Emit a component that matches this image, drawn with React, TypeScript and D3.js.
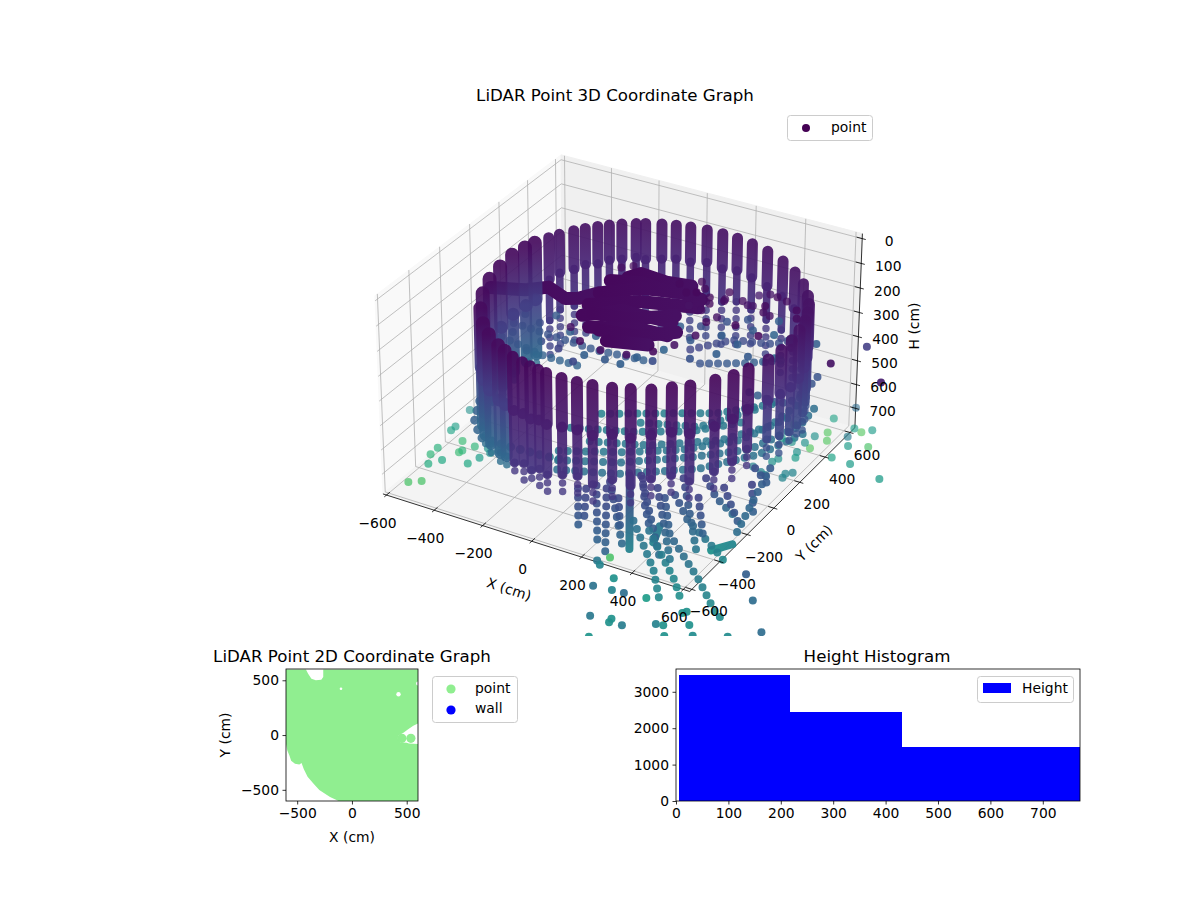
import { useEffect, useRef } from "react";
import * as d3 from "d3";

const FONT = "DejaVu Sans";

// axis limits of the 3D box, H runs downwards
const xLimits = [-615, 625];
const yLimits = [-615, 640];
const hLimits = [782, -20];
const xyTicks = [-600, -400, -200, 0, 200, 400, 600];
const hTicks = [0, 100, 200, 300, 400, 500, 600, 700];

// wall columns: x, y, hTop, hSolid, hEnd
const backColumns = [
  [549, 336, 60, 370, 520], [484, 398, 60, 350, 520], [410, 449, 60, 340, 520], [329, 487, 60, 340, 530],
  [255, 510, 60, 330, 500], [189, 521, 60, 320, 520], [127, 525, 60, 340, 530], [65, 522, 60, 320, 500],
  [3, 512, 60, 340, 520], [-49, 498, 60, 330, 520], [-98, 480, 60, 340, 540], [-151, 454, 60, 350, 520],
  [-180, 436, 60, 330, 530], [-223, 407, 60, 340, 510], [-258, 377, 60, 340, 520], [-289, 347, 60, 360, 530],
  [-320, 311, 60, 350, 520], [-347, 275, 60, 370, 540], [-377, 224, 60, 370, 530], [-397, 183, 60, 400, 550],
];
const sideColumns = [
  [-420, 124, 60, 520, 560], [-432, 76, 60, 530, 560], [-443, 6, 60, 540, 580], [-444, -75, 70, 560, 590],
  [-433, -164, 75, 570, 600], [-403, -259, 80, 570, 600], [-358, -347, 85, 560, 590], [-299, -426, 90, 540, 580],
  [-241, -482, 90, 530, 570], [-173, -531, 90, 520, 560], [-134, -553, 90, 510, 550],
];
const rightColumns = [
  [603, 265, 60, 380, 480], [633, 214, 60, 400, 490], [657, 159, 60, 420, 490], [676, 103, 60, 430, 500],
  [689, 34, 60, 440, 500], [695, -35, 65, 430, 490], [692, -105, 70, 410, 480], [680, -176, 75, 390, 470],
];
const frontColumns = [
  [-89, -574, 90, 510, 570], [-42, -590, 90, 490, 560], [-5, -600, 90, 500, 550], [31, -607, 90, 480, 550],
  [65, -612, 90, 490, 570], [127, -615, 90, 470, 550], [185, -612, 90, 460, 560], [240, -603, 90, 480, 570],
  [306, -586, 90, 450, 530], [364, -562, 90, 470, 550], [425, -530, 90, 440, 540], [481, -490, 85, 430, 520],
  [528, -448, 85, 460, 530], [586, -380, 80, 440, 520], [624, -321, 80, 420, 520], [651, -265, 75, 390, 490],
];

// runs of lidar returns leaving the wall: x, y at the floor level, with start and end shade
const tailRuns = [
  { pts: [[31, -349], [180, -601]], c: [0.2, 0.32] },
  { pts: [[77, -299], [265, -618]], c: [0.2, 0.32] },
  { pts: [[105, -252], [366, -616]], c: [0.2, 0.36] },
  { pts: [[180, -162], [495, -592]], c: [0.18, 0.36] },
  { pts: [[195, -176], [286, -324], [377, -450]], c: [0.18, 0.3] },
  { pts: [[303, -434], [513, -668], [626, -827]], c: [0.36, 0.48] },
  { pts: [[381, -462], [605, -688], [688, -790]], c: [0.38, 0.5] },
  { pts: [[324, -249], [454, -448], [676, -646], [846, -821]], c: [0.26, 0.5] },
  { pts: [[346, -214], [464, -337], [628, -449], [699, -505]], c: [0.24, 0.48] },
  { pts: [[386, -61], [478, -157], [578, -223]], c: [0.2, 0.36] },
  { pts: [[546, -18], [649, -203]], c: [0.2, 0.32] },
  { pts: [[185, -332], [298, -517]], c: [0.22, 0.3] },
  { pts: [[425, -188], [562, -406]], c: [0.2, 0.32] },
  { pts: [[471, -85], [640, -284]], c: [0.2, 0.3] },
  { pts: [[550, 113], [609, -152], [654, -350]], c: [0.28, 0.36] },
  { pts: [[318, -102], [607, -529]], c: [0.2, 0.42] },
  { pts: [[56, -335], [147, -505]], c: [0.2, 0.26] },
  { pts: [[117, -297], [340, -695]], c: [0.2, 0.34] },
  { pts: [[271, -205], [530, -584]], c: [0.2, 0.4] },
  { pts: [[504, 85], [610, -1]], c: [0.24, 0.3] },
];
const solidRuns = [
  { pts: [[146, -183], [380, -598]], c: [0.18, 0.44] },
  { pts: [[625, -465], [669, -394]], c: [0.5, 0.46] },
  { pts: [[398, -420], [430, -520]], c: [0.4, 0.44] },
];

// teal bands of returns lying low inside and behind the wall
const floorBands = [
  { pts: [[-586, -6], [-535, -126], [-449, -225], [-327, -227], [-189, -219], [-111, -210]], c: [0.3, 0.44], w: 9 },
  { pts: [[-127, -219], [67, -125], [268, 33], [427, 190], [506, 424], [492, 603]], c: [0.38, 0.36], w: 8 },
  { pts: [[-95, -50], [104, 33], [305, 191], [414, 369], [430, 566]], c: [0.4, 0.38], w: 8 },
  { pts: [[-2, 156], [198, 239], [322, 464]], c: [0.42, 0.4], w: 8 },
  { pts: [[401, 774], [415, 595], [369, 529], [215, 550]], c: [0.26, 0.3], w: 8 },
  { pts: [[-158, -162], [33, -63], [212, 60], [367, 228], [445, 463]], c: [0.4, 0.38], w: 8 },
  { pts: [[-202, -2], [-2, 82], [183, 193], [321, 350]], c: [0.42, 0.4], w: 8 },
  { pts: [[-156, 139], [29, 250], [214, 361], [353, 520]], c: [0.44, 0.4], w: 8 },
  { pts: [[-97, -276], [103, -193], [334, -17], [473, 179], [552, 415]], c: [0.36, 0.38], w: 8 },
];

// blue bands of returns inside the ring, ceiling level
const innerBands = [
  { pts: [[-217, -356], [-49, -367], [120, -378], [310, -354]], c: [0.24, 0.3], w: 8 },
  { pts: [[-203, -460], [-19, -500], [144, -500]], c: [0.3, 0.32], w: 8 },
  { pts: [[398, -211], [491, -81], [629, -35], [706, 86]], c: [0.2, 0.26], w: 8 },
  { pts: [[473, -279], [597, -205], [711, -114]], c: [0.26, 0.32], w: 8 },
];

// scatter at floor level: x, y, shade
const floorPoints = [
  [-507, -612, 0.72], [-470, -583, 0.72], [-392, -401, 0.6], [-484, -426, 0.6], [-512, -473, 0.62], [-540, -414, 0.66],
  [-542, -363, 0.64], [-460, -351, 0.68], [-456, -335, 0.66], [-490, -279, 0.68], [-566, -235, 0.58], [-566, -205, 0.56],
  [-583, -80, 0.5], [-377, -346, 0.55], [-385, -276, 0.5], [-361, -300, 0.5], [-432, -289, 0.66], [-346, -268, 0.55],
  [484, 426, 0.74], [614, 436, 0.74], [638, 383, 0.74], [609, 306, 0.74], [718, 499, 0.74], [785, 419, 0.72],
  [690, 445, 0.42], [720, 388, 0.55], [705, 288, 0.58], [781, 282, 0.55], [916, 242, 0.55], [589, 535, 0.58],
  [685, 509, 0.55], [746, 531, 0.55], [624, 645, 0.35], [490, 317, 0.55], [533, 312, 0.5], [576, 331, 0.5],
  [586, 389, 0.5], [581, 259, 0.5], [594, 222, 0.55], [545, 184, 0.5], [535, 156, 0.5], [614, 106, 0.45],
  [633, 125, 0.45], [617, 78, 0.45], [556, 63, 0.45], [492, 92, 0.45], [534, 73, 0.45],
];
const frontPoints = [
  [387, -857, 0.38], [424, -782, 0.5], [454, -847, 0.45], [498, -843, 0.36], [469, -1018, 0.4], [542, -1019, 0.5],
  [539, -998, 0.5], [588, -1014, 0.42], [527, -1126, 0.52], [578, -832, 0.55], [681, -951, 0.44], [705, -944, 0.5],
  [725, -850, 0.5], [734, -836, 0.5], [739, -998, 0.5], [779, -900, 0.5], [819, -950, 0.48], [921, -897, 0.48],
  [1004, -817, 0.35], [892, -666, 0.35], [797, -535, 0.3], [844, -808, 0.48], [349, -677, 0.72], [321, -716, 0.4],
  [342, -734, 0.45],
];

// scatter at ceiling level
const innerPoints = [
  [-216, -281, 0.3], [-140, -310, 0.22], [-118, -236, 0.28], [-18, -311, 0.3], [-70, -418, 0.24], [7, -432, 0.2],
  [105, -426, 0.3], [181, -417, 0.28], [268, -350, 0.3], [321, -258, 0.32], [368, -155, 0.28], [352, -51, 0.24],
  [444, -71, 0.3], [521, -100, 0.3], [521, 13, 0.28], [598, 22, 0.32], [660, 20, 0.3], [675, 105, 0.25],
  [752, 39, 0.3], [428, -268, 0.26], [490, -194, 0.3], [591, -156, 0.28], [674, -120, 0.34], [-187, -413, 0.26],
  [-80, -498, 0.22], [74, -293, 0.3], [291, -88, 0.3], [326, -345, 0.24], [242, -418, 0.3], [95, -484, 0.22],
  [414, 23, 0.25], [470, 72, 0.26], [568, 116, 0.3],
];
const darkPoints = [
  [140, 181, 0.03], [191, 137, 0.03], [245, 58, 0.05], [222, 156, 0.02], [298, 51, 0.04], [235, 194, 0.03],
  [280, 146, 0.03], [301, 106, 0.03], [369, 34, 0.05], [335, 149, 0.03], [321, 215, 0.03], [332, 163, 0.04],
  [451, 16, 0.02], [391, 182, 0.05], [421, 163, 0.06], [439, 167, 0.06], [422, 246, 0.08], [476, 189, 0.03],
  [492, 145, 0.04], [453, 272, 0.06], [523, 133, 0.05], [483, 268, 0.03], [526, 256, 0.04], [585, 216, 0.03],
  [612, 164, 0.03], [555, -12, 0.02], [690, -29, 0.03], [855, -56, 0.05], [909, 110, 0.18], [1058, -85, 0.08],
  [201, 233, 0.03], [353, -14, 0.03], [367, -117, 0.04], [336, -211, 0.05], [296, -288, 0.03], [228, -352, 0.05],
  [136, -369, 0.04], [44, -350, 0.03], [-33, -282, 0.05], [-97, 182, 0.03], [-66, 215, 0.03],
];

// dense cluster hanging in the middle of the ring
const centerStrands = [
  [[-421, -178], [-307, -132], [-246, -73], [-154, -115], [-114, -91], [-71, -20]],
  [[-40, 130], [-14, 179], [94, 168], [186, 187]],
  [[-83, 79], [20, 120], [120, 110], [220, 140]],
  [[-71, -20], [38, 83], [176, 128], [261, 120]],
  [[-62, -113], [83, -3], [221, 43], [280, 60]],
  [[-41, -190], [60, -90], [129, -88], [251, -75]],
  [[-20, -160], [110, -130], [240, -30]],
  [[20, -251], [174, -174], [284, -167]],
  [[60, -250], [200, -220], [300, -130]],
  [[121, -303], [259, -257]],
];

// lower panels
const groundEdge = [
  [-603, 599], [-420, 599], [-400, 560], [-370, 515], [-330, 500], [-280, 505], [-262, 530], [-262, 599],
  [603, 599], [603, 106], [560, 85], [510, 50], [470, 20], [425, -5], [418, -30], [440, -65],
  [500, -70], [520, -78], [603, -82], [603, -605], [-115, -605], [-200, -565], [-298, -502], [-350, -445],
  [-405, -381], [-440, -310], [-460, -255], [-480, -268], [-520, -262], [-555, -235], [-570, -190], [-590, -140],
  [-603, -76],
];
const groundSpots = [[456, -30, 4.6], [538, -30, 4.6]];
const groundHoles = [[-100, 423, 1.3], [425, 372, 2.2], [603, 470, 2]];
const planTicks = [-500, 0, 500];
const binEdges = [6, 218, 431, 790];
const binCounts = [3461, 2445, 1483];
const histXTicks = [0, 100, 200, 300, 400, 500, 600, 700];
const histYTicks = [0, 1000, 2000, 3000];

const floorH = 700;
const ceilingH = 100;
const backShade = [0.05, 0.22];
const sideShade = [0.03, 0.36];
const rightShade = [0.05, 0.26];
const frontShade = [0.02, 0.17];

const xNorm = d3.scaleLinear().domain(xLimits).range([-0.5, 0.5]);
const yNorm = d3.scaleLinear().domain(yLimits).range([-0.5, 0.5]);
const hNorm = d3.scaleLinear().domain(hLimits).range([-0.3225, 0.3225]);

// elev 30, azim -60, seen from distance 10
function project(x: number, y: number, h: number) {
  const u = xNorm(x);
  const v = yNorm(y);
  const w = hNorm(h);
  const xc = 0.866 * u + 0.5 * v;
  const yc = -0.25 * u + 0.433 * v + 0.866 * w;
  const zc = 0.433 * u - 0.75 * v + 0.5 * w;
  const f = 1 / (1 - zc / 10);
  return { sx: 622.6 + 351 * xc * f, sy: 363.8 - 351 * yc * f, depth: zc };
}

const depthAlpha = d3.scaleLinear().domain([-0.5, 0.45]).range([0.5, 0.92]).clamp(true);

function App() {
  const ref = useRef<SVGSVGElement>(null);

  useEffect(() => {
    if (!ref.current) return;
    const svg = d3.select(ref.current);
    svg.selectAll("*").remove();
    svg.style("font-family", FONT);
    const defs = svg.append("defs");
    defs.append("clipPath").attr("id", "clip3d").append("rect").attr("width", 1200).attr("height", 636);
    defs.append("clipPath").attr("id", "clipPlan").append("rect").attr("x", 286).attr("y", 669).attr("width", 132).attr("height", 132);

    const [x0, x1] = xLimits;
    const [y0, y1] = yLimits;
    const [hBot, hTop] = hLimits;
    const g = svg.append("g").attr("clip-path", "url(#clip3d)");

    const pathOf = (pts: number[][]) =>
      "M" + pts.map((p) => { const q = project(p[0], p[1], p[2]); return `${q.sx},${q.sy}`; }).join("L") + "Z";

    // panes
    const panes = [
      { c: "#f9f9f9", pts: [[x0, y0, hBot], [x0, y1, hBot], [x0, y1, hTop], [x0, y0, hTop]] },
      { c: "#f0f0f0", pts: [[x0, y1, hBot], [x1, y1, hBot], [x1, y1, hTop], [x0, y1, hTop]] },
      { c: "#f4f4f4", pts: [[x0, y0, hBot], [x1, y0, hBot], [x1, y1, hBot], [x0, y1, hBot]] },
    ];
    panes.forEach((p) => g.append("path").attr("d", pathOf(p.pts)).attr("fill", p.c).attr("stroke", p.c));

    const seg = (sel: any, a: number[], b: number[], color: string, w: number) => {
      const p = project(a[0], a[1], a[2]);
      const q = project(b[0], b[1], b[2]);
      sel.append("line").attr("x1", p.sx).attr("y1", p.sy).attr("x2", q.sx).attr("y2", q.sy)
        .attr("stroke", color).attr("stroke-width", w);
    };

    // grid
    const grid = "#b0b0b0";
    xyTicks.forEach((t) => {
      seg(g, [t, y0, hBot], [t, y1, hBot], grid, 0.8);
      seg(g, [t, y1, hBot], [t, y1, hTop], grid, 0.8);
      seg(g, [x0, t, hBot], [x1, t, hBot], grid, 0.8);
      seg(g, [x0, t, hBot], [x0, t, hTop], grid, 0.8);
    });
    hTicks.forEach((t) => {
      seg(g, [x0, y0, t], [x0, y1, t], grid, 0.8);
      seg(g, [x0, y1, t], [x1, y1, t], grid, 0.8);
    });

    // axis lines and ticks
    seg(g, [x0, y0, hBot], [x1, y0, hBot], "#000", 0.8);
    seg(g, [x1, y0, hBot], [x1, y1, hBot], "#000", 0.8);
    seg(g, [x1, y1, hBot], [x1, y1, hTop], "#000", 0.8);

    const label = (sel: any, x: number, y: number, text: string, size = 13.89, anchor = "middle", rot = 0) => {
      const t = sel.append("text").attr("text-anchor", anchor).attr("dominant-baseline", "central")
        .attr("font-size", size).attr("fill", "#000").text(text);
      t.attr("transform", `translate(${x},${y}) rotate(${rot})`);
    };
    const fmt = d3.format("");
    const tickFmt = (v: number) => (v < 0 ? "\u2212" + Math.abs(v) : fmt(v));

    // one stroked run through listed points, shaded from c[0] to c[1]
    let gradId = 0;
    const line = d3.line<{ sx: number; sy: number }>().x((d) => d.sx).y((d) => d.sy);
    const run = (pts: number[][], c: number[], width: number, dotted: boolean, alpha: number) => {
      const proj = pts.map((p) => project(p[0], p[1], p[2]));
      const a = proj[0];
      const b = proj[proj.length - 1];
      const id = `shade${gradId++}`;
      const gr = defs.append("linearGradient").attr("id", id).attr("gradientUnits", "userSpaceOnUse")
        .attr("x1", a.sx).attr("y1", a.sy).attr("x2", b.sx).attr("y2", b.sy + 0.01);
      gr.append("stop").attr("offset", 0).attr("stop-color", d3.interpolateViridis(c[0]));
      gr.append("stop").attr("offset", 1).attr("stop-color", d3.interpolateViridis(c[1]));
      g.append("path").attr("d", line(proj)!).attr("fill", "none").attr("stroke", `url(#${id})`)
        .attr("stroke-width", width).attr("stroke-linecap", "round").attr("stroke-linejoin", "round")
        .attr("stroke-dasharray", dotted ? `0 ${width + 1}` : null).attr("stroke-opacity", alpha);
    };
    const dots = (rows: number[][], h: number) => {
      g.append("g").selectAll("circle").data(rows).join("circle")
        .attr("cx", (d) => project(d[0], d[1], h).sx)
        .attr("cy", (d) => project(d[0], d[1], h).sy)
        .attr("r", 4)
        .attr("fill", (d) => d3.interpolateViridis(d[2]))
        .attr("fill-opacity", (d) => depthAlpha(project(d[0], d[1], h).depth));
    };
    // the scan lines fan out near the top of the wall, so the upper half is drawn wider
    const columns = (rows: number[][], shade: number[], width: number, lower: number) => {
      rows.forEach((r) => {
        const [x, y, top, solid, end] = r;
        const mix = (h: number) => shade[0] + ((shade[1] - shade[0]) * (h - top)) / (end - top);
        const half = (top + solid) / 2;
        run([[x, y, solid], [x, y, end]], [mix(solid), shade[1]], 7.5, true, 0.8);
        run([[x, y, half], [x, y, solid]], [mix(half), mix(solid)], lower, false, 0.92);
        run([[x, y, top], [x, y, half]], [shade[0], mix(half)], width, false, 0.92);
      });
    };

    floorBands.forEach((b) => run(b.pts.map((p) => [p[0], p[1], floorH]), b.c, b.w, true, 0.85));
    dots(floorPoints, floorH);
    columns(backColumns, backShade, 11, 7.5);
    innerBands.forEach((b) => run(b.pts.map((p) => [p[0], p[1], ceilingH]), b.c, b.w, true, 0.8));
    dots(innerPoints, ceilingH);
    centerStrands.forEach((s) => run(s.map((p) => [p[0], p[1], ceilingH]), [0.02, 0.04], 13, false, 1));
    dots(darkPoints, ceilingH);
    columns(sideColumns, sideShade, 14, 12);
    columns(rightColumns, rightShade, 12, 9);
    solidRuns.forEach((t) => run(t.pts.map((p) => [p[0], p[1], floorH]), t.c, 8, false, 0.95));
    tailRuns.forEach((t) => run(t.pts.map((p) => [p[0], p[1], floorH]), t.c, 8, true, 0.9));
    columns(frontColumns, frontShade, 12, 10);
    dots(frontPoints, floorH);

    xyTicks.forEach((t) => {
      seg(g, [t, y0 - 14, hBot], [t, y0 + 22, hBot], "#000", 0.8);
      const p = project(t, y0, hBot);
      label(g, p.sx - 9, p.sy + 27.5, tickFmt(t));
      seg(g, [x1 - 22, t, hBot], [x1 + 14, t, hBot], "#000", 0.8);
      const q = project(x1, t, hBot);
      label(g, q.sx + 17, q.sy + 22, tickFmt(t));
    });
    hTicks.forEach((t) => {
      seg(g, [x1 - 22, y1, t], [x1 + 14, y1, t], "#000", 0.8);
      const p = project(x1, y1, t);
      label(g, p.sx + 27, p.sy + 2.5, fmt(t));
    });
    label(g, 509, 589, "X (cm)", 13.89, "middle", 18);
    label(g, 814, 543, "Y (cm)", 13.89, "middle", -45);
    label(g, 914, 326, "H (cm)", 13.89, "middle", -90);

    // titles and the legend of the big panel
    const title = (x: number, y: number, t: string) =>
      svg.append("text").attr("x", x).attr("y", y).attr("text-anchor", "middle").attr("font-size", 16.67).attr("fill", "#000").text(t);
    title(615, 101, "LiDAR Point 3D Coordinate Graph");

    const legend = (x: number, y: number, w: number, h: number) =>
      svg.append("rect").attr("x", x + 0.5).attr("y", y + 0.5).attr("width", w).attr("height", h).attr("rx", 3)
        .attr("fill", "#fff").attr("fill-opacity", 0.8).attr("stroke", "#ccc").attr("stroke-width", 1);
    const legendText = (x: number, y: number, t: string) =>
      svg.append("text").attr("x", x).attr("y", y).attr("dominant-baseline", "central").attr("font-size", 13.89).attr("fill", "#000").text(t);
    legend(787, 115, 85, 25);
    svg.append("circle").attr("cx", 806).attr("cy", 128).attr("r", 4).attr("fill", d3.interpolateViridis(0));
    legendText(831, 127, "point");

    // 2D panel
    const planX = d3.scaleLinear().domain([-602, 603]).range([286, 418]);
    const planY = d3.scaleLinear().domain([-602, 603]).range([801, 669]);
    title(352, 662, "LiDAR Point 2D Coordinate Graph");
    const plan = svg.append("g").attr("clip-path", "url(#clipPlan)");
    plan.append("path").attr("fill", "#90ee90")
      .attr("d", d3.line().x((d) => planX(d[0])).y((d) => planY(d[1])).curve(d3.curveLinearClosed)(groundEdge as [number, number][])!);
    plan.selectAll("circle.hole").data(groundHoles).join("circle").attr("class", "hole")
      .attr("cx", (d) => planX(d[0])).attr("cy", (d) => planY(d[1])).attr("r", (d) => d[2]).attr("fill", "#fff");
    plan.selectAll("circle.spot").data(groundSpots).join("circle").attr("class", "spot")
      .attr("cx", (d) => planX(d[0])).attr("cy", (d) => planY(d[1])).attr("r", (d) => d[2]).attr("fill", "#90ee90");
    const styleAxis = (a: any) => {
      a.attr("font-family", FONT).attr("font-size", 13.89);
      a.selectAll("line").attr("stroke", "#000").attr("stroke-width", 0.8);
      a.selectAll(".domain").remove();
    };
    const axisB = (scale: any, ticks: number[], y: number) => {
      const a = svg.append("g").attr("transform", `translate(0,${y})`)
        .call(d3.axisBottom(scale).tickValues(ticks).tickSize(3.5).tickPadding(3.5).tickFormat((v: any) => tickFmt(v)) as any);
      styleAxis(a);
    };
    const axisL = (scale: any, ticks: number[], x: number) => {
      const a = svg.append("g").attr("transform", `translate(${x},0)`)
        .call(d3.axisLeft(scale).tickValues(ticks).tickSize(3.5).tickPadding(3.5).tickFormat((v: any) => tickFmt(v)) as any);
      styleAxis(a);
    };
    axisB(planX, planTicks, 801);
    axisL(planY, planTicks, 286);
    const frame = (x: number, y: number, w: number, h: number) =>
      svg.append("rect").attr("x", x).attr("y", y).attr("width", w).attr("height", h).attr("fill", "none").attr("stroke", "#000").attr("stroke-width", 0.8);
    frame(286, 669, 132, 132);
    label(svg, 352, 837, "X (cm)");
    label(svg, 225, 735, "Y (cm)", 13.89, "middle", -90);
    legend(432, 676, 85, 46);
    svg.append("circle").attr("cx", 451).attr("cy", 689).attr("r", 4.6).attr("fill", "#90ee90");
    svg.append("circle").attr("cx", 451).attr("cy", 710).attr("r", 4.6).attr("fill", "#0000ff");
    legendText(475, 688, "point");
    legendText(475, 708, "wall");

    // histogram
    const histX = d3.scaleLinear().domain([0, 771]).range([676, 1080]);
    const histY = d3.scaleLinear().domain([0, 3626]).range([801, 669]);
    title(877, 662, "Height Histogram");
    defs.append("clipPath").attr("id", "clipHist").append("rect").attr("x", 676).attr("y", 669).attr("width", 404).attr("height", 132);
    svg.append("g").attr("clip-path", "url(#clipHist)").selectAll("rect").data(binCounts).join("rect")
      .attr("x", (d, i) => histX(binEdges[i]))
      .attr("y", (d) => histY(d))
      .attr("width", (d, i) => histX(binEdges[i + 1]) - histX(binEdges[i]))
      .attr("height", (d) => histY(0) - histY(d))
      .attr("fill", "#0000ff")
      .attr("shape-rendering", "crispEdges");
    axisB(histX, histXTicks, 801);
    axisL(histY, histYTicks, 676);
    frame(676, 669, 404, 132);
    legend(977, 676, 96, 26);
    svg.append("rect").attr("x", 983).attr("y", 683).attr("width", 28).attr("height", 10).attr("fill", "#0000ff");
    legendText(1022, 688, "Height");
  }, []);

  return <svg ref={ref} width={1200} height={900} style={{ position: "absolute", left: 0, top: 0, background: "#fff" }} />;
}

export default App;
